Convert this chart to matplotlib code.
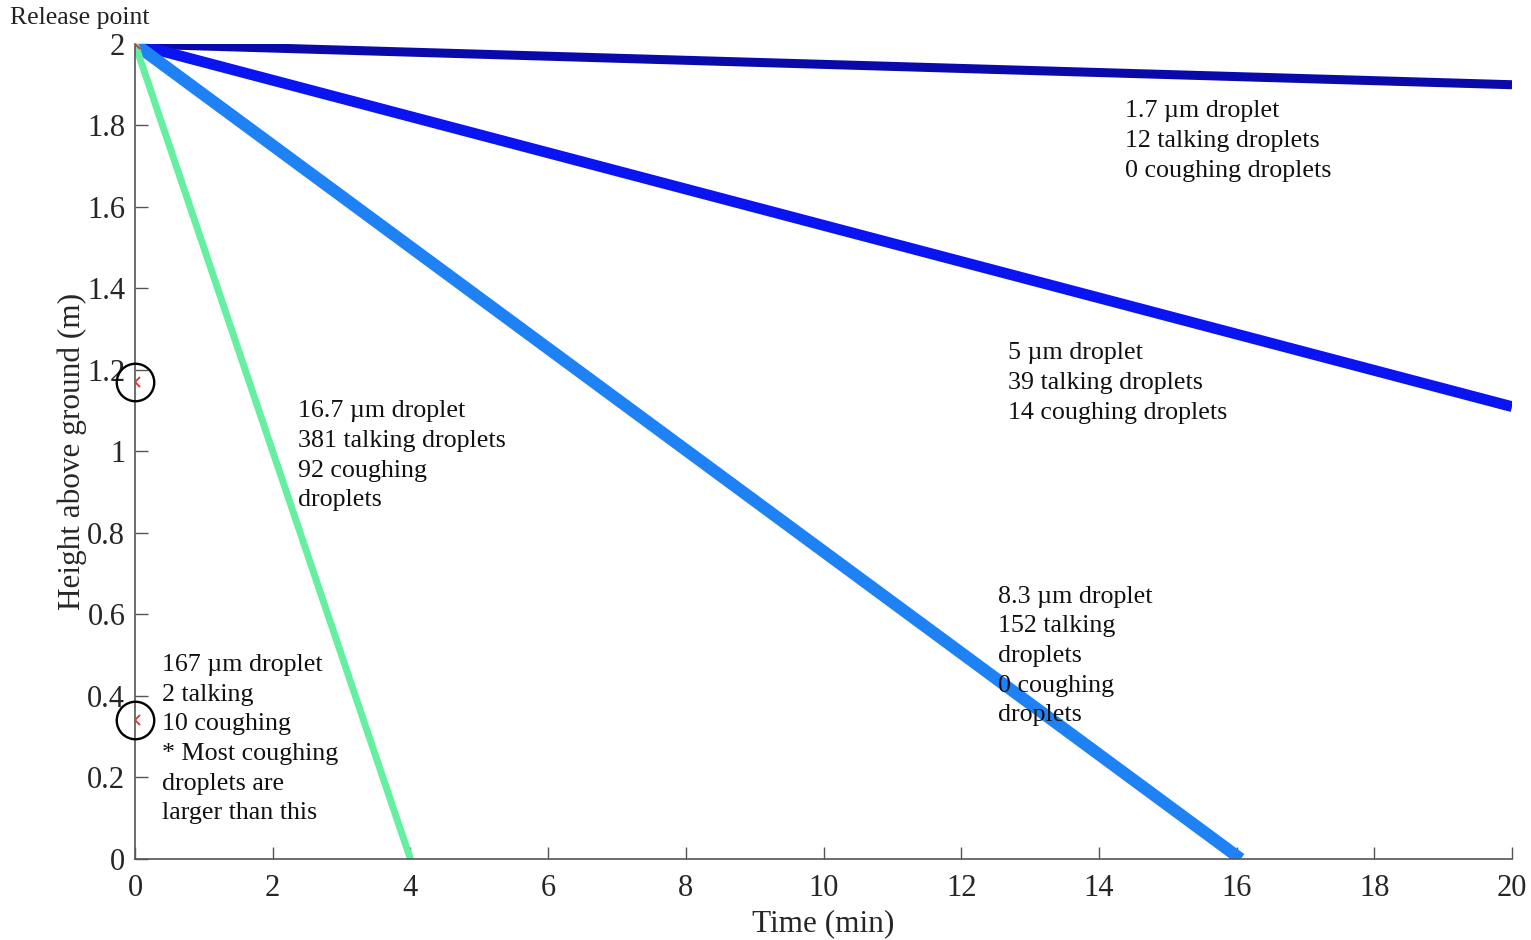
import matplotlib.pyplot as plt

plt.rcParams['font.family'] = ['Liberation Serif', 'DejaVu Serif']

# droplet trajectories: start (t, h) and end (t, h)
sizes = ['1.7', '5', '8.3', '16.7']
t_end = [20, 20, 16.06, 4.0]
h_end = [1.90, 1.11, 0.0, 0.0]
colors = ['#0a0aaa', '#0a14f0', '#1e82f5', '#64f0a0']
widths = [6.5, 7.8, 8.8, 5.0]

# labels next to each line
notes = [
    '1.7 µm droplet\n12 talking droplets\n0 coughing droplets',
    '5 µm droplet\n39 talking droplets\n14 coughing droplets',
    '8.3 µm droplet\n152 talking\ndroplets\n0 coughing\ndroplets',
    '16.7 µm droplet\n381 talking droplets\n92 coughing\ndroplets',
    '167 µm droplet\n2 talking\n10 coughing\n* Most coughing\ndroplets are\nlarger than this',
]
note_x = [14.38, 12.68, 12.53, 2.37, 0.39]
note_y = [1.762, 1.168, 0.498, 0.989, 0.294]

# marked heights on the y axis
circle_h = [1.17, 0.34]

fig = plt.figure(figsize=(15.31, 9.4), dpi=100)
ax = fig.add_axes([0.0882, 0.0862, 0.8994, 0.867])

for te, he, c, w in zip(t_end, h_end, colors, widths):
    ax.plot([0, te], [2, he], color=c, lw=w, solid_capstyle='butt', zorder=2)

ax.plot([0], [2], 'x', color='#e03030', ms=7, mew=1.3, zorder=5)
for h in circle_h:
    ax.plot([0], [h], 'x', color='#e03030', ms=7, mew=1.3, zorder=5)
    ax.plot([0], [h], 'o', mfc='none', mec='black', ms=27, mew=1.7, zorder=5,
            clip_on=False)

for txt, x, y in zip(notes, note_x, note_y):
    ax.text(x, y, txt, fontsize=18.7, va='center', ha='left', linespacing=1.45,
            color='#111111')

ax.set_xlim(0, 20)
ax.set_ylim(0, 2)
ax.set_xticks(range(0, 21, 2))
ax.set_yticks([i / 5 for i in range(11)])
ax.set_yticklabels(['0', '0.2', '0.4', '0.6', '0.8', '1', '1.2', '1.4', '1.6', '1.8', '2'])
ax.tick_params(direction='in', length=9, width=1, colors='#555555',
               labelcolor='#262626', labelsize=22)
ax.tick_params(axis='x', pad=11)
ax.tick_params(axis='y', pad=7)
for s in ['top', 'right']:
    ax.spines[s].set_visible(False)
for s in ['left', 'bottom']:
    ax.spines[s].set_color('#555555')
    ax.spines[s].set_linewidth(1.2)

ax.set_xlabel('Time (min)', fontsize=22.5, color='#262626', labelpad=4.5)
ax.set_ylabel('Height above ground (m)', fontsize=22.5, color='#262626', labelpad=0)

fig.text(10 / 1531, 1 - 18 / 940, 'Release point', fontsize=18.5, va='center',
         ha='left', color='#222222')

fig.savefig('out.png', dpi=100)
